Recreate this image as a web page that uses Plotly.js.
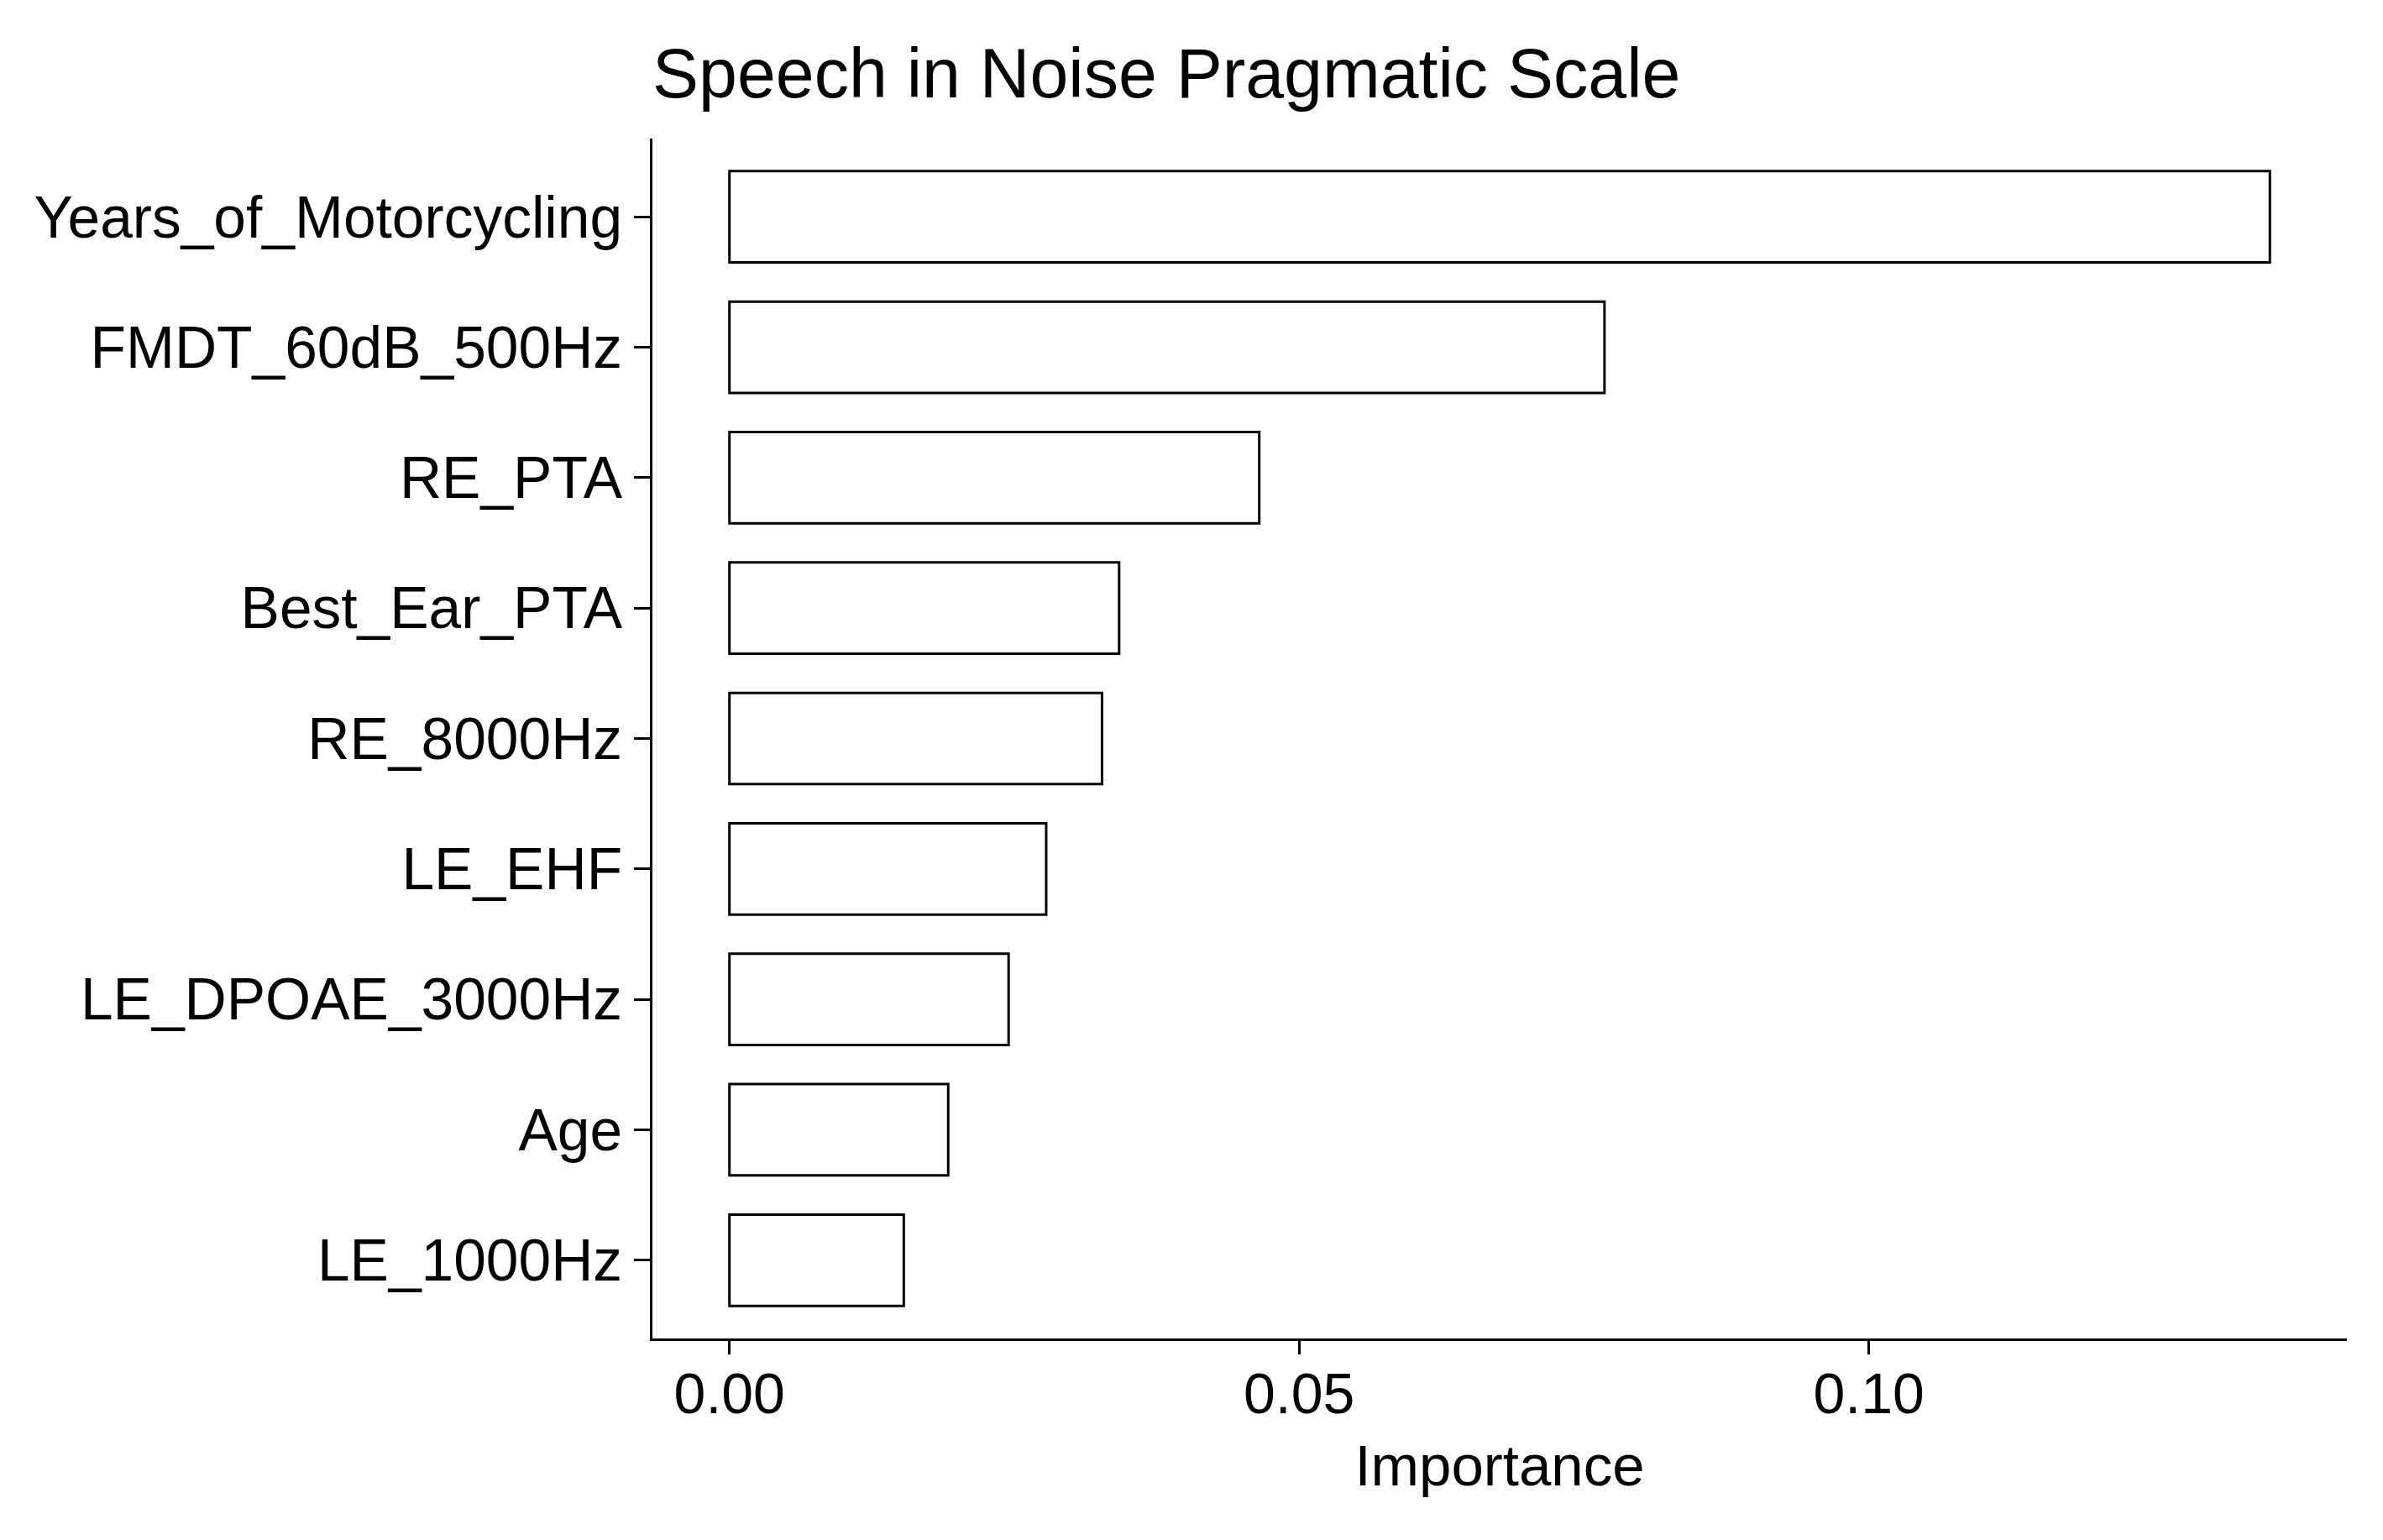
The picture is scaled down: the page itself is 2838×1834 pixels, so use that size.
<!DOCTYPE html>
<html>
<head>
<meta charset="utf-8">
<script src="https://cdn.plot.ly/plotly-3.0.1.min.js"></script>
<style>html,body{margin:0;padding:0;background:#fff;}#chart{width:2838px;height:1834px;}</style>
</head>
<body>
<div id="chart"></div>
<script>
// Features ordered bottom to top
const features = ["LE_1000Hz", "Age", "LE_DPOAE_3000Hz", "LE_EHF", "RE_8000Hz", "Best_Ear_PTA", "RE_PTA", "FMDT_60dB_500Hz", "Years_of_Motorcycling"];
const importance = [0.0153, 0.0192, 0.0245, 0.0278, 0.0327, 0.0342, 0.0465, 0.0768, 0.1352];
const xTickVals = [0, 0.05, 0.10];
const xTickText = ["0.00", "0.05", "0.10"];

const FONT = "Arial, 'Liberation Sans', sans-serif";

const trace = {
  type: "bar",
  orientation: "h",
  y: features,
  x: importance,
  width: 0.7,
  marker: {color: "#ffffff", line: {color: "#000000", width: 3}},
  hoverinfo: "x+y"
};

const maxV = Math.max(...importance);
const layout = {
  width: 2838,
  height: 1834,
  paper_bgcolor: "#ffffff",
  plot_bgcolor: "#ffffff",
  margin: {l: 777, r: 43, t: 165, b: 240, pad: 0},
  showlegend: false,
  font: {family: FONT, color: "#000000", size: 68},
  title: {
    text: "Speech in Noise Pragmatic Scale",
    font: {family: FONT, size: 82.5, color: "#000000"},
    xref: "paper", x: 0, xanchor: "left",
    yref: "container", y: 1 - 87/1834, yanchor: "middle"
  },
  xaxis: {
    range: [-0.05 * maxV, 1.05 * maxV],
    tickvals: xTickVals,
    ticktext: xTickText,
    showgrid: false,
    zeroline: false,
    showline: true,
    linecolor: "#000000",
    linewidth: 3,
    ticks: "outside",
    ticklen: 16,
    tickwidth: 3,
    tickcolor: "#000000",
    ticklabelstandoff: -12,
    tickfont: {family: FONT, size: 68, color: "#000000"},
    title: {text: "Importance", font: {family: FONT, size: 69, color: "#000000"}, standoff: 26},
    automargin: false,
    fixedrange: true
  },
  yaxis: {
    type: "category",
    categoryorder: "array",
    categoryarray: features,
    range: [-0.6, features.length - 1 + 0.6],
    showgrid: false,
    zeroline: false,
    showline: true,
    linecolor: "#000000",
    linewidth: 3,
    ticks: "outside",
    ticklen: 19,
    tickwidth: 3,
    tickcolor: "#000000",
    tickfont: {family: FONT, size: 69.5, color: "#000000"},
    automargin: false,
    fixedrange: true
  }
};

Plotly.newPlot("chart", [trace], layout, {displayModeBar: false, staticPlot: true});
</script>
</body>
</html>
